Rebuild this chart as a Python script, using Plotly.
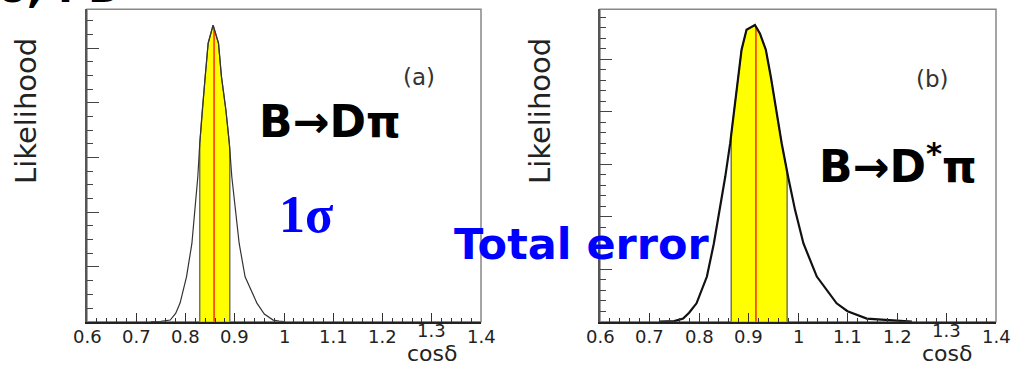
import numpy as np
import plotly.graph_objects as go

# ---------------- data ----------------
# panel (a): B -> D pi
a_x = [0.73, 0.75, 0.769, 0.78, 0.789, 0.802, 0.813, 0.819, 0.825, 0.829, 0.834, 0.840,
       0.846, 0.856, 0.867, 0.873, 0.882, 0.889, 0.894, 0.901, 0.909, 0.921, 0.935,
       0.945, 0.96, 0.978, 0.99, 1.0]
a_y = [0.0, 0.005, 0.03, 0.15, 0.34, 0.82, 1.43, 2.04, 2.65, 3.26, 3.87, 4.48,
       5.09, 5.42, 5.09, 4.48, 3.87, 3.26, 2.65, 2.04, 1.43, 0.82, 0.52,
       0.34, 0.14, 0.03, 0.01, 0.0]
a_band = [0.829, 0.890]
a_center = 0.858

# panel (b): B -> D* pi
b_x = [0.72, 0.75, 0.768, 0.78, 0.795, 0.816, 0.830, 0.842, 0.853, 0.863, 0.871, 0.879,
       0.886, 0.896, 0.913, 0.923, 0.935, 0.945, 0.956, 0.967, 0.980, 0.994, 1.011,
       1.038, 1.078, 1.10, 1.139, 1.192, 1.23]
b_y = [0.0, 0.01, 0.06, 0.17, 0.35, 0.86, 1.49, 2.13, 2.76, 3.40, 4.03, 4.67,
       5.18, 5.56, 5.65, 5.49, 5.18, 4.67, 4.03, 3.40, 2.76, 2.13, 1.49,
       0.86, 0.35, 0.20, 0.06, 0.02, 0.0]
b_band = [0.865, 0.978]
b_center = 0.915

x_tickvals = [0.6, 0.7, 0.8, 0.9, 1.0, 1.1, 1.2, 1.3, 1.4]
x_ticktext = ["0.6", "0.7", "0.8", "0.9", "1", "1.1", "1.2", "1.3", "1.4"]

# ---------------- figure ----------------
W, H = 1017, 365
fig = go.Figure()

def band_poly(xs, ys, lo, hi):
    xs = np.asarray(xs); ys = np.asarray(ys)
    inside = (xs > lo) & (xs < hi)
    px = [lo, lo] + list(xs[inside]) + [hi, hi]
    py = [0, float(np.interp(lo, xs, ys))] + list(ys[inside]) + [float(np.interp(hi, xs, ys)), 0]
    return px, py

panels = [
    ("x", "y", a_x, a_y, a_band, a_center, 1.2, "#333333"),
    ("x2", "y2", b_x, b_y, b_band, b_center, 2.2, "#111111"),
]
for xa, ya, xs, ys, band, cen, lw, lc in panels:
    bx, by = band_poly(xs, ys, band[0], band[1])
    fig.add_trace(go.Scatter(x=bx, y=by, xaxis=xa, yaxis=ya, mode="lines",
                             fill="toself", fillcolor="#ffff00",
                             line=dict(color="#555555", width=1.2),
                             hoverinfo="skip", showlegend=False))
    fig.add_trace(go.Scatter(x=[cen, cen], y=[0, float(np.interp(cen, xs, ys))],
                             xaxis=xa, yaxis=ya, mode="lines",
                             line=dict(color="#ff2a00", width=1.5),
                             hoverinfo="skip", showlegend=False))
    fig.add_trace(go.Scatter(x=xs, y=ys, xaxis=xa, yaxis=ya, mode="lines",
                             line=dict(color=lc, width=lw),
                             hoverinfo="skip", showlegend=False))

px2x = lambda p: p / W
px2y = lambda p: 1 - p / H

y_dom = [px2y(321.7), px2y(9.3)]
xa_dom = [px2x(87), px2x(481)]
xb_dom = [px2x(600), px2x(996)]

def xaxis(dom, anchor):
    return dict(domain=dom, anchor=anchor, range=[0.6, 1.4],
                tickvals=x_tickvals, showticklabels=False,
                ticks="inside", ticklen=9, tickwidth=1.2, tickcolor="#333333",
                minor=dict(dtick=0.02, tick0=0.6, ticks="inside", ticklen=4,
                           tickwidth=1, tickcolor="#333333"),
                showline=True, linecolor="#222222", linewidth=1.5,
                showgrid=False, zeroline=False, fixedrange=True)

def yaxis(anchor, top, minor_dt):
    return dict(domain=y_dom, anchor=anchor, range=[0, top],
                dtick=1, tick0=0, showticklabels=False,
                ticks="inside", ticklen=12, tickwidth=1.3, tickcolor="#444444",
                minor=dict(dtick=minor_dt, ticks="inside", ticklen=6,
                           tickwidth=1, tickcolor="#444444"),
                showline=True, linecolor="#555555", linewidth=1.5,
                showgrid=False, zeroline=False, fixedrange=True)

fig.update_layout(
    width=W, height=H, margin=dict(l=0, r=0, t=0, b=0, pad=0, autoexpand=False),
    paper_bgcolor="white", plot_bgcolor="white",
    xaxis=xaxis(xa_dom, "y"), yaxis=yaxis("x", 5.71, 0.25),
    xaxis2=xaxis(xb_dom, "y2"), yaxis2=yaxis("x2", 5.95, 0.2),
    showlegend=False,
)

# frames (top/right in gray)
for dom in (xa_dom, xb_dom):
    fig.add_shape(type="rect", xref="paper", yref="paper",
                  x0=dom[0], x1=dom[1], y0=y_dom[0], y1=y_dom[1],
                  line=dict(color="#888888", width=1.5), layer="below")

def ann(text, x, y, size, color="black", family="DejaVu Sans", bold=False,
        angle=0, xanchor="center", yanchor="middle", xref="paper"):
    fig.add_annotation(text=text, xref=xref, yref="paper",
                       x=(x if xref != "paper" else px2x(x)), y=px2y(y),
                       showarrow=False,
                       xanchor=xanchor, yanchor=yanchor, textangle=angle,
                       font=dict(family=family, size=size, color=color,
                                 weight="bold" if bold else "normal"))

# x tick labels (placed on each panel's own x scale)
for xr in ("x", "x2"):
    for v, t in zip(x_tickvals, x_ticktext):
        ann(t, v, 330.5 if t == "1.3" else 336, 18, color="#222222", xref=xr)

# axis titles
ann("Likelihood", 26, 111, 29, color="#222222", angle=-90)
ann("Likelihood", 540, 111, 29, color="#222222", angle=-90)
ann("cosδ", 432, 353, 22, color="#222222")
ann("cosδ", 947, 353, 22, color="#222222")

# panel labels
ann("(a)", 419, 77, 23, color="#333333")
ann("(b)", 932, 79, 23, color="#333333")

# decay labels
ann("B→Dπ", 330, 121, 44, bold=True)
ann("B→D<sup>*</sup>π", 898, 163, 44, bold=True)

# blue labels
ann("1σ", 306, 214, 52, color="#0000ff", family="Liberation Serif", bold=True)
ann("Total error", 582, 244, 43, color="#0000ff", family="DejaVu Sans", bold=True)

# cut-off slide title fragment at the top
ann("o, . D", -4, 14, 42, bold=True, xanchor="left", yanchor="bottom")

fig.write_html("out.html", config={"responsive": False, "displayModeBar": False},
               post_script="document.body.style.margin='0px';"
                           "document.body.style.overflow='hidden';"
                           "document.documentElement.style.overflow='hidden';")
